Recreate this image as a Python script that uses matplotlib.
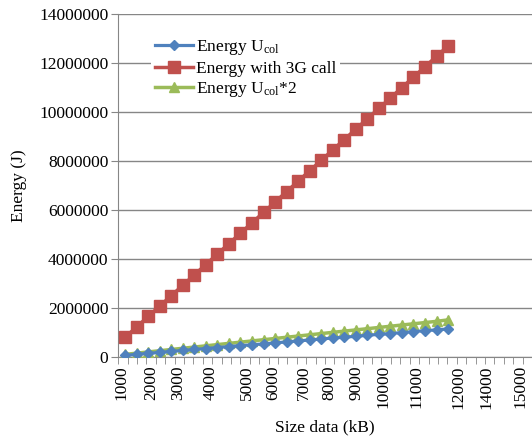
import matplotlib
matplotlib.use('Agg')
import matplotlib.pyplot as plt
import numpy as np

plt.rcParams['font.family'] = 'Liberation Serif'
plt.rcParams['mathtext.fontset'] = 'custom'
plt.rcParams['mathtext.rm'] = 'Liberation Serif'
plt.rcParams['mathtext.it'] = 'Liberation Serif:italic'

# data
sizes = [1000, 1400, 1800, 2200, 2600, 3000, 3400, 3800, 4200, 4600,
         5000, 5400, 5800, 6200, 6600, 7000, 7400, 7800, 8200, 8600,
         9000, 9400, 9800, 10200, 10600, 11000, 11400, 11800, 12200]
energyUcol = [0.06, 0.10, 0.14, 0.18, 0.22, 0.26, 0.30, 0.34, 0.38, 0.42,
              0.46, 0.49, 0.53, 0.57, 0.61, 0.65, 0.69, 0.73, 0.77, 0.80,
              0.84, 0.88, 0.92, 0.95, 0.99, 1.03, 1.07, 1.10, 1.14]
energy3G = [0.80, 1.22, 1.65, 2.07, 2.50, 2.92, 3.35, 3.77, 4.20, 4.62,
            5.05, 5.47, 5.90, 6.32, 6.75, 7.17, 7.60, 8.02, 8.45, 8.87,
            9.30, 9.72, 10.15, 10.57, 11.00, 11.42, 11.85, 12.27, 12.70]
energyUcol2 = [0.10, 0.15, 0.20, 0.25, 0.30, 0.35, 0.40, 0.45, 0.50, 0.55,
               0.60, 0.65, 0.70, 0.75, 0.80, 0.85, 0.90, 0.95, 1.00, 1.05,
               1.10, 1.15, 1.20, 1.25, 1.30, 1.35, 1.40, 1.45, 1.51]

xLabels = ['1000', '2000', '3000', '4000', '5000', '6000', '7000', '8000',
           '9000', '10000', '11000', '12000', '14000', '15000']
# where the labels sit on the axis (the reference spacing is uneven)
xLabelPos = [860, 1890, 2840, 3950, 5220, 6130, 7210, 8070,
             9030, 9950, 11110, 12550, 13520, 14700]
yTicks = [0, 2000000, 4000000, 6000000, 8000000, 10000000, 12000000, 14000000]

fig = plt.figure(figsize=(5.32, 4.40), dpi=100)
ax = fig.add_axes([0.222, 0.189, 0.778, 0.779])

grey = '#868686'
ax.plot(sizes, np.array(energyUcol) * 1e6, color='#4F81BD', lw=2.3,
        marker='D', ms=5, label='Energy U$_{\\mathrm{col}}$', zorder=4)
ax.plot(sizes, np.array(energy3G) * 1e6, color='#C0504D', lw=2.5,
        marker='s', ms=8, label='Energy with 3G call', zorder=3)
ax.plot(sizes, np.array(energyUcol2) * 1e6, color='#9BBB59', lw=2.5,
        marker='^', ms=7, label='Energy U$_{\\mathrm{col}}$*2', zorder=3)

xmin, xmax = 757, 15112
ax.set_xlim(xmin, xmax)
ax.set_ylim(0, 14000000)
ax.set_yticks(yTicks)
ax.set_yticklabels([str(v) for v in yTicks])
ax.set_xticks(xLabelPos)
ax.set_xticklabels(xLabels, rotation=90)
ax.set_xticks(np.linspace(xmin, xmax, 45), minor=True)

ax.grid(axis='y', color=grey, lw=1)
ax.set_axisbelow(True)
for s in ['top', 'right']:
    ax.spines[s].set_visible(False)
for s in ['left', 'bottom']:
    ax.spines[s].set_color(grey)
ax.tick_params(axis='y', length=5, color=grey, labelsize=12.5, pad=2)
ax.tick_params(axis='x', which='major', length=0, labelsize=12.5, pad=6)
ax.tick_params(axis='x', which='minor', length=5, color=grey)

ax.set_xlabel('Size data (kB)', fontsize=12.5, labelpad=8)
ax.set_ylabel('Energy (J)', fontsize=12.5, labelpad=9)

leg = ax.legend(loc='upper left', bbox_to_anchor=(0.08, 0.94), fontsize=12.5,
                frameon=True, edgecolor='none', facecolor='white', framealpha=1,
                handlelength=2.2, handletextpad=0.2, labelspacing=0.2,
                borderpad=0.2, borderaxespad=0)

fig.savefig('out.png', dpi=100)
